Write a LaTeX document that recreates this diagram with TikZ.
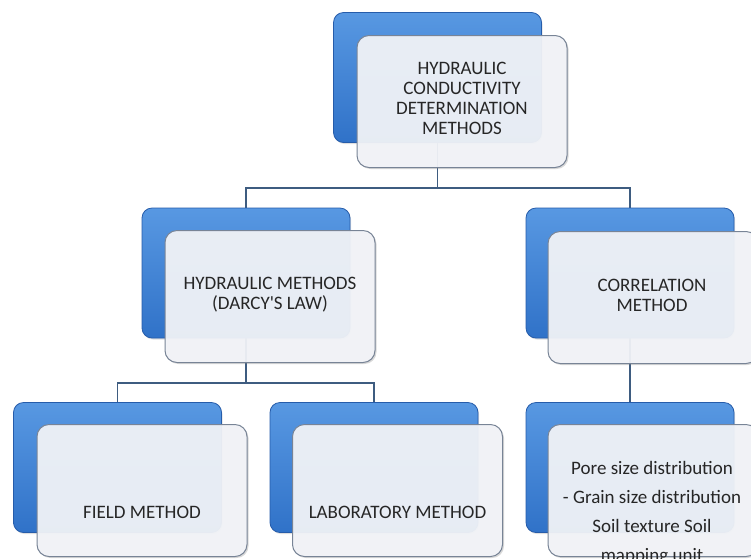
\documentclass[tikz,border=0pt]{standalone}
\usepackage{fontspec}
\setmainfont{Carlito}
\usetikzlibrary{shadows}
\definecolor{bluetop}{RGB}{88,152,226}
\definecolor{bluemid}{RGB}{60,130,214}
\definecolor{bluebot}{RGB}{48,114,200}
\definecolor{blueedge}{RGB}{38,92,170}
\definecolor{paper}{RGB}{243,245,249}
\definecolor{paperedge}{RGB}{120,132,150}
\definecolor{linkcol}{RGB}{62,92,128}
\definecolor{txt}{RGB}{38,38,38}
\pgfdeclarelayer{bg}
\pgfsetlayers{bg,main}
\begin{document}
\begin{tikzpicture}[x=1pt,y=-1pt,
  backbox/.style={rectangle, rounded corners=10pt, minimum width=208pt, minimum height=130pt,
    top color=bluetop, middle color=bluemid, bottom color=bluebot, draw=blueedge, line width=0.8pt,
    drop shadow={shadow xshift=1pt,shadow yshift=-1.5pt,opacity=0.25}},
  frontbox/.style={rectangle, rounded corners=12pt, minimum width=210pt, minimum height=132pt,
    fill=paper, fill opacity=0.93, draw=paperedge, draw opacity=1, line width=1pt,
    drop shadow={shadow xshift=1.5pt,shadow yshift=-1.5pt,opacity=0.3}},
  boxtext/.style={text=txt, align=center, inner sep=0pt, font=\fontsize{19}{20}\selectfont},
  link/.style={draw=linkcol, line width=1.8pt}]
\path[use as bounding box] (0,0) rectangle (751,558);
\clip (0,0) rectangle (751,558);
% back (blue) boxes
\node[backbox] (topb) at (437.5,77.5) {};
\node[backbox] (hmb) at (246,273) {};
\node[backbox] (cmb) at (630,273) {};
\node[backbox] (fmb) at (117.5,467.5) {};
\node[backbox] (lmb) at (374,467.5) {};
\node[backbox] (smb) at (630,467.5) {};
% front (white) boxes
\node[frontbox] (topw) at (462,101.5) {};
\node[frontbox] (hmw) at (270,296.5) {};
\node[frontbox] (cmw) at (653,297.5) {};
\node[frontbox] (fmw) at (142,490.5) {};
\node[frontbox] (lmw) at (397.5,490.5) {};
\node[frontbox] (smw) at (653,490.5) {};
% texts
\node[boxtext] (toptx) at (462,98.5) {HYDRAULIC\\CONDUCTIVITY\\DETERMINATION\\METHODS};
\node[boxtext] (hmtx) at (270,294.5) {HYDRAULIC METHODS\\(DARCY\textquotesingle S LAW)};
\node[boxtext] (cmtx) at (652,295) {CORRELATION\\METHOD};
\node[boxtext, anchor=base] (fmtx) at (142,518) {FIELD METHOD};
\node[boxtext, anchor=base] (lmtx) at (397.5,518) {LABORATORY METHOD};
\node[boxtext, anchor=north, font=\fontsize{19}{29}\selectfont] (smtx) at (652,461)
  {Pore size distribution\\- Grain size distribution\\Soil texture Soil\\mapping unit};
% connectors behind
\begin{pgfonlayer}{bg}
\fill[white] (0,0) rectangle (751,558);
\coordinate (j1) at (437.5,188);
\coordinate (j2) at (246,383);
\draw[link] (topb.south) -- (j1) -| (hmb.north);
\draw[link] (j1) -| (cmb.north);
\draw[link] (hmb.south) -- (j2) -| (fmb.north);
\draw[link] (j2) -| (lmb.north);
\draw[link] (cmb.south) -- (smb.north);
\end{pgfonlayer}
\end{tikzpicture}
\end{document}
